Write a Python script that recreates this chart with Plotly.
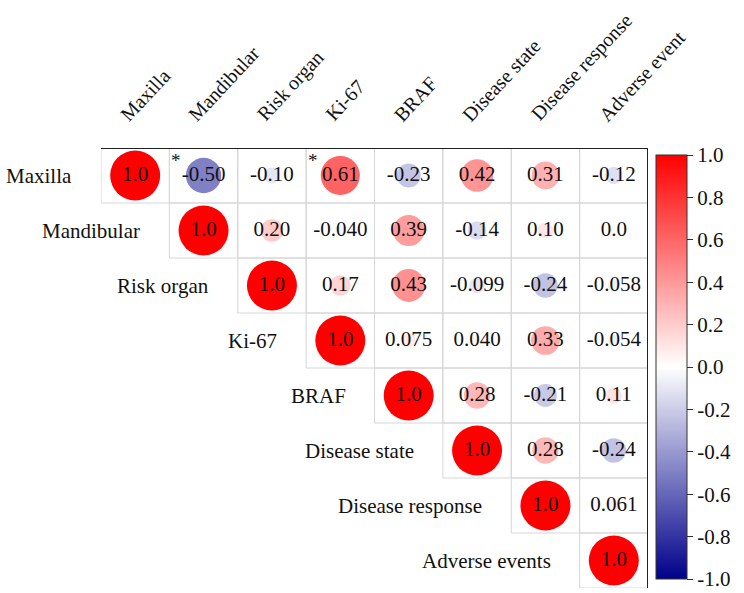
import plotly.graph_objects as go
import math

labels_top = ["Maxilla", "Mandibular", "Risk organ", "Ki-67", "BRAF",
              "Disease state", "Disease response", "Adverse event"]
labels_row = ["Maxilla", "Mandibular", "Risk organ", "Ki-67", "BRAF",
              "Disease state", "Disease response", "Adverse events"]

# upper-triangle correlation rows (starting at the diagonal)
r_maxilla = [1.0, -0.50, -0.10, 0.61, -0.23, 0.42, 0.31, -0.12]
r_mandibular = [1.0, 0.20, -0.040, 0.39, -0.14, 0.10, 0.0]
r_risk = [1.0, 0.17, 0.43, -0.099, -0.24, -0.058]
r_ki67 = [1.0, 0.075, 0.040, 0.33, -0.054]
r_braf = [1.0, 0.28, -0.21, 0.11]
r_state = [1.0, 0.28, -0.24]
r_response = [1.0, 0.061]
r_adverse = [1.0]
rows = [r_maxilla, r_mandibular, r_risk, r_ki67, r_braf, r_state, r_response, r_adverse]

# significant pairs (row, col)
significant = [(0, 1), (0, 3)]

cbar_ticks = [1.0, 0.8, 0.6, 0.4, 0.2, 0.0, -0.2, -0.4, -0.6, -0.8, -1.0]

FONT = "Liberation Serif"
xs, ys, vals, texts, sizes = [], [], [], [], []
for i, row in enumerate(rows):
    for k, v in enumerate(row):
        j = i + k
        xs.append(j)
        ys.append(i)
        vals.append(v)
        texts.append(f"{v:#.2g}")
        sizes.append(50 * math.sqrt(abs(v)))

colorscale = [[0.0, "#00008B"], [0.5, "#FFFFFF"], [1.0, "#FF0000"]]

fig = go.Figure()

shapes = []
for i, row in enumerate(rows):
    for k in range(len(row)):
        j = i + k
        shapes.append(dict(type="rect", xref="x", yref="y",
                           x0=j - 0.5, x1=j + 0.5, y0=i - 0.5, y1=i + 0.5,
                           line=dict(color="#d6d6d6", width=1), layer="below"))
n = len(labels_top)
shapes.append(dict(type="line", xref="x", yref="y", x0=-0.5, x1=n - 0.5,
                   y0=-0.5, y1=-0.5, line=dict(color="#222", width=2)))
shapes.append(dict(type="line", xref="x", yref="y", x0=n - 0.5, x1=n - 0.5,
                   y0=-0.5, y1=n - 0.5, line=dict(color="#222", width=2)))

fig.add_trace(go.Scatter(
    x=xs, y=ys, mode="markers+text", text=texts,
    textposition="middle center",
    textfont=dict(family=FONT, size=21, color="#111"),
    marker=dict(size=sizes, sizemode="diameter", color=vals,
                colorscale=colorscale, cmin=-1, cmax=1,
                line=dict(width=0), opacity=1,
                colorbar=dict(
                    x=1.0146, xanchor="left", xpad=0,
                    y=0.502, yanchor="middle", ypad=0,
                    len=424, lenmode="pixels", thickness=31,
                    outlinecolor="#333", outlinewidth=1,
                    ticks="outside", ticklen=6, tickcolor="#333",
                    tickvals=cbar_ticks,
                    ticktext=[f"{t:.1f}" for t in cbar_ticks],
                    tickfont=dict(family=FONT, size=21, color="#111"))),
    hoverinfo="skip", showlegend=False))

annotations = []
for i, lab in enumerate(labels_row):
    annotations.append(dict(x=i - 0.5, y=i, xref="x", yref="y", text=lab,
                            showarrow=False, xanchor="right", yanchor="middle",
                            xshift=-27, font=dict(family=FONT, size=21, color="#111")))
for j, lab in enumerate(labels_top):
    annotations.append(dict(x=j, y=1, xref="x", yref="paper", text=lab,
                            showarrow=False, xanchor="left", yanchor="bottom",
                            textangle=-47, xshift=-22, yshift=20,
                            font=dict(family=FONT, size=20, color="#111")))
for (i, j) in significant:
    annotations.append(dict(x=j - 0.5, y=i - 0.5, xref="x", yref="y", text="*",
                            showarrow=False, xanchor="center", yanchor="middle",
                            xshift=7, yshift=-12, font=dict(family=FONT, size=19, color="#111")))

fig.update_layout(
    width=744, height=593,
    margin=dict(l=101, r=96, t=148, b=5),
    paper_bgcolor="white", plot_bgcolor="white",
    xaxis=dict(range=[-0.5, n - 0.5], visible=False, fixedrange=True),
    yaxis=dict(range=[n - 0.5, -0.5], visible=False, fixedrange=True),
    shapes=shapes, annotations=annotations,
)

fig.write_html("out.html")
